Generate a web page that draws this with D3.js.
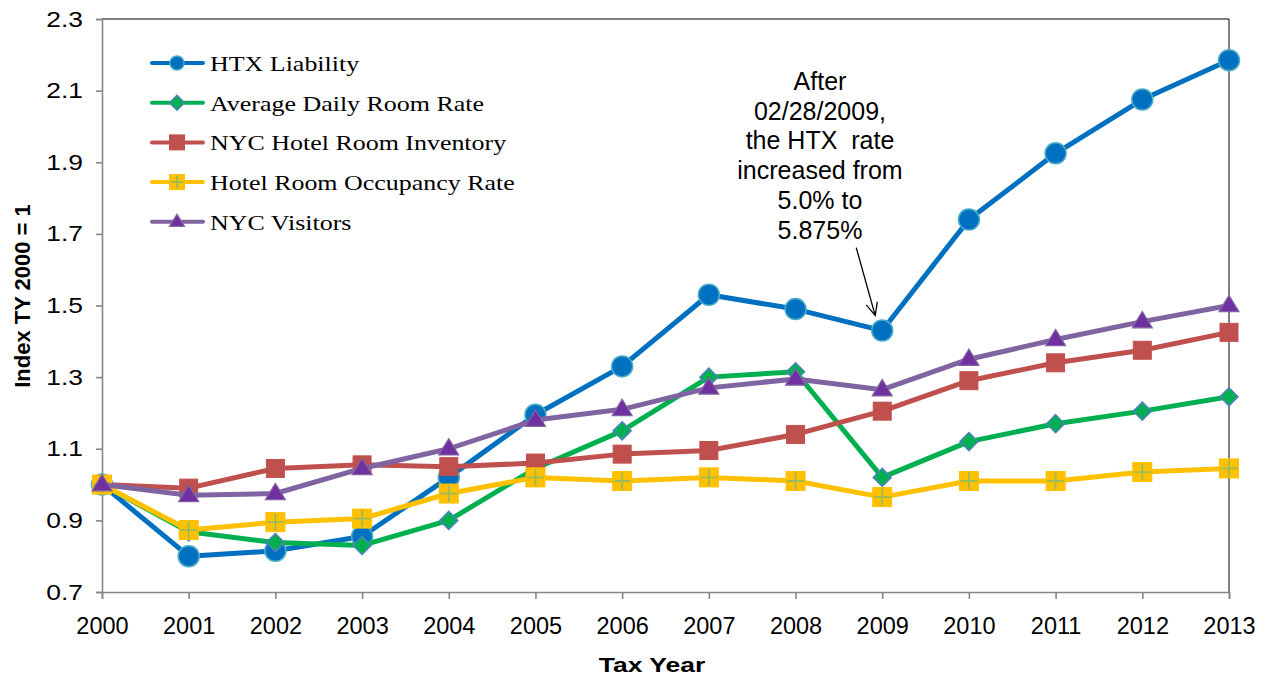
<!DOCTYPE html>
<html>
<head>
<meta charset="utf-8">
<script src="https://cdn.jsdelivr.net/npm/d3@7"></script>
<style>
  body { margin: 0; background: #fff; }
  svg { display: block; }
  .tick text { font-family: Arial, "Liberation Sans", sans-serif; fill: #000; }
</style>
</head>
<body>
<svg id="chart" width="1272" height="680"></svg>
<script>
(function () {
  'use strict';

  // values (index, TY 2000 = 1)
  var years = [2000, 2001, 2002, 2003, 2004, 2005, 2006, 2007, 2008, 2009, 2010, 2011, 2012, 2013];
  var htxLiability = [1.00, 0.80, 0.815, 0.855, 1.02, 1.195, 1.33, 1.53, 1.49, 1.43, 1.74, 1.925, 2.075, 2.185];
  var avgDailyRate = [1.00, 0.868, 0.838, 0.83, 0.90, 1.045, 1.15, 1.30, 1.315, 1.02, 1.12, 1.17, 1.205, 1.245];
  var roomInventory = [1.00, 0.99, 1.045, 1.055, 1.05, 1.06, 1.085, 1.095, 1.14, 1.205, 1.29, 1.34, 1.375, 1.425];
  var occupancyRate = [1.00, 0.873, 0.895, 0.905, 0.975, 1.02, 1.01, 1.02, 1.01, 0.965, 1.01, 1.01, 1.035, 1.045];
  var nycVisitors = [1.00, 0.97, 0.975, 1.045, 1.10, 1.18, 1.21, 1.27, 1.295, 1.265, 1.35, 1.405, 1.455, 1.50];

  var seriesNames = ['HTX Liability', 'Average Daily Room Rate', 'NYC Hotel Room Inventory',
    'Hotel Room Occupancy Rate', 'NYC Visitors'];
  var yTicks = [0.7, 0.9, 1.1, 1.3, 1.5, 1.7, 1.9, 2.1, 2.3];
  var yTitle = 'Index TY 2000 = 1';
  var xTitle = 'Tax Year';
  var noteLines = ['After', '02/28/2009,', 'the HTX  rate', 'increased from', '5.0% to', '5.875%'];
  var noteYear = 2009;

  var series = [
    { name: seriesNames[0], values: htxLiability, line: '#0070C0', marker: 'circle' },
    { name: seriesNames[1], values: avgDailyRate, line: '#00B050', marker: 'diamond' },
    { name: seriesNames[2], values: roomInventory, line: '#C0504D', marker: 'square' },
    { name: seriesNames[3], values: occupancyRate, line: '#FFC000', marker: 'plus' },
    { name: seriesNames[4], values: nycVisitors, line: '#8064A2', marker: 'triangle' }
  ];

  var svg = d3.select('#chart');
  var left = 102, right = 1229, top = 19, bottom = 592;

  var x = d3.scaleLinear().domain([years[0], years[years.length - 1]]).range([left, right]);
  var y = d3.scaleLinear().domain([yTicks[0], yTicks[yTicks.length - 1]]).range([bottom, top]);

  // frame: black top / right
  svg.append('path')
    .attr('d', 'M' + left + ',' + top + 'H' + right + 'V' + bottom)
    .attr('fill', 'none')
    .attr('stroke', '#000')
    .attr('stroke-width', 1);

  // axes
  var yAxis = svg.append('g')
    .attr('transform', 'translate(' + left + ',0)')
    .call(d3.axisLeft(y).tickValues(yTicks).tickSize(6).tickPadding(13)
      .tickFormat(d3.format('.1f')));
  yAxis.selectAll('.tick text')
    .attr('font-size', 22)
    .attr('transform', 'scale(1.2,1)')
    .attr('x', -19 / 1.2);

  var xAxis = svg.append('g')
    .attr('transform', 'translate(0,' + bottom + ')')
    .call(d3.axisBottom(x).tickValues(years).tickSize(7).tickPadding(18)
      .tickFormat(d3.format('d')));
  xAxis.selectAll('.tick text')
    .attr('font-size', 23.5);

  [yAxis, xAxis].forEach(function (ax) {
    ax.select('.domain').attr('stroke', '#868686').attr('stroke-width', 1.6);
    ax.selectAll('.tick line').attr('stroke', '#868686').attr('stroke-width', 1.6);
  });

  // axis titles
  svg.append('text')
    .attr('transform', 'translate(30,296) rotate(-90)')
    .attr('text-anchor', 'middle')
    .attr('font-family', 'Arial, "Liberation Sans", sans-serif')
    .attr('font-weight', 'bold')
    .attr('font-size', 22)
    .text(yTitle);

  svg.append('text')
    .attr('transform', 'translate(652,672) scale(1.26,1)')
    .attr('text-anchor', 'middle')
    .attr('font-family', 'Arial, "Liberation Sans", sans-serif')
    .attr('font-weight', 'bold')
    .attr('font-size', 21)
    .text(xTitle);

  // markers
  function drawMarker(g, kind, size) {
    // size ~ full width of the marker
    var h = size / 2;
    if (kind === 'circle') {
      g.append('circle').attr('r', h)
        .attr('fill', '#0070C0').attr('stroke', '#4BACC6').attr('stroke-width', 1.5);
    } else if (kind === 'diamond') {
      g.append('path').attr('d', 'M0,' + (-h) + 'L' + h + ',0L0,' + h + 'L' + (-h) + ',0Z')
        .attr('fill', '#00B050').attr('stroke', '#4F81BD').attr('stroke-width', 1.5);
    } else if (kind === 'square') {
      g.append('rect').attr('x', -h).attr('y', -h).attr('width', size).attr('height', size)
        .attr('fill', '#C0504D').attr('stroke', '#C0504D').attr('stroke-width', 1);
    } else if (kind === 'plus') {
      g.append('rect').attr('x', -h).attr('y', -h).attr('width', size).attr('height', size)
        .attr('fill', '#FFC000').attr('stroke', '#FFC000').attr('stroke-width', 1);
      g.append('path').attr('d', 'M' + (-h + 1) + ',0H' + (h - 1) + 'M0,' + (-h + 1) + 'V' + (h - 1))
        .attr('stroke', '#9BBB59').attr('stroke-width', 1.8);
    } else if (kind === 'triangle') {
      var th = size * 0.82;
      g.append('path')
        .attr('d', 'M0,' + (-th * 0.62) + 'L' + h + ',' + (th * 0.38) + 'L' + (-h) + ',' + (th * 0.38) + 'Z')
        .attr('fill', '#7030A0').attr('stroke', '#8064A2').attr('stroke-width', 1.2);
    }
  }

  var markerSize = { circle: 21, diamond: 18, square: 18, plus: 19, triangle: 20 };

  var line = d3.line()
    .x(function (d, i) { return x(years[i]); })
    .y(function (d) { return y(d); });

  series.forEach(function (s) {
    var g = svg.append('g').attr('class', 'series');
    g.append('path')
      .attr('d', line(s.values))
      .attr('fill', 'none')
      .attr('stroke', s.line)
      .attr('stroke-width', 5)
      .attr('stroke-linejoin', 'round');
    s.values.forEach(function (v, i) {
      var m = g.append('g').attr('transform', 'translate(' + x(years[i]) + ',' + y(v) + ')');
      drawMarker(m, s.marker, markerSize[s.marker]);
    });
  });

  // legend
  var legend = svg.append('g').attr('transform', 'translate(150,63)');
  series.forEach(function (s, i) {
    var row = legend.append('g').attr('transform', 'translate(0,' + (i * 39.7) + ')');
    row.append('line')
      .attr('x1', 2).attr('x2', 53)
      .attr('stroke', s.line).attr('stroke-width', 4).attr('stroke-linecap', 'round');
    var m = row.append('g').attr('transform', 'translate(27,0)');
    drawMarker(m, s.marker, s.marker === 'circle' ? 14 : 15);
    row.append('text')
      .attr('transform', 'translate(60,8) scale(1.18,1)')
      .attr('font-family', '"Liberation Serif", "Times New Roman", serif')
      .attr('font-size', 22)
      .text(s.name);
  });

  // annotation
  var noteX = 820;
  var note = svg.append('text')
    .attr('text-anchor', 'middle')
    .attr('font-family', 'Arial, "Liberation Sans", sans-serif')
    .attr('font-size', 25)
    .style('white-space', 'pre');
  noteLines.forEach(function (t, i) {
    note.append('tspan').attr('x', noteX).attr('y', 90 + i * 29.7).text(t);
  });

  // arrow pointing at the 2009 HTX point
  var tipX = x(noteYear) - 7;
  var tipY = y(htxLiability[years.indexOf(noteYear)]) - 15;
  var startX = tipX - 19, startY = tipY - 68;
  var ang = Math.atan2(tipY - startY, tipX - startX);
  var headLen = 14, spread = 0.42;
  svg.append('path')
    .attr('d', 'M' + startX + ',' + startY + 'L' + tipX + ',' + tipY +
      'M' + (tipX - headLen * Math.cos(ang - spread)) + ',' + (tipY - headLen * Math.sin(ang - spread)) +
      'L' + tipX + ',' + tipY +
      'L' + (tipX - headLen * Math.cos(ang + spread)) + ',' + (tipY - headLen * Math.sin(ang + spread)))
    .attr('fill', 'none')
    .attr('stroke', '#000')
    .attr('stroke-width', 1.3);
}());
</script>
</body>
</html>
